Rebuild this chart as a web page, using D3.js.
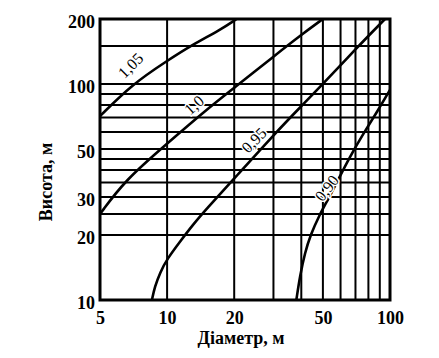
<!DOCTYPE html>
<html><head><meta charset="utf-8">
<script src="https://cdn.jsdelivr.net/npm/d3@7/dist/d3.min.js"></script>
<style>body{margin:0;background:#fff} svg{display:block}</style>
</head><body><svg id="c" width="439" height="358"></svg>
<script>
// ---- data ----
const xTicks = [5, 10, 20, 50, 100];
const yTicks = [10, 20, 30, 50, 100, 200];
const xGrid = [10, 20, 30, 40, 50, 60, 70, 80, 90];
const yGrid = [20, 25, 30, 35, 40, 45, 50, 60, 70, 80, 90, 100, 150];

const curve105 = [[5, 71], [7, 100], [10, 128], [13, 152], [17.3, 178], [20.5, 200]];
const curve100 = [[5, 25], [6.5, 36], [10, 53], [15, 76], [20, 96], [30, 134], [40, 169], [50, 200]];
const curve095 = [[8.55, 10], [8.8, 11.5], [9.3, 13.4], [10, 15.5], [11.5, 18.8], [13, 22.2], [15, 26.4], [20, 36.5], [30, 58], [40, 79], [50, 100], [70, 145], [95, 200]];
const curve090 = [[38, 10], [39.5, 13], [41.5, 16.5], [44, 20], [48, 24.5], [53, 29.5], [58.5, 36], [66, 46], [76, 59], [88, 75], [100, 94]];

const curveNames = ["1,05", "1,0", "0,95", "0,90"];
const labelD = [6.85, 13.2, 24.5, 52];
const labelH = [122, 80, 55, 33];
const labelAngle = [-45, -42, -45, -52];

const xTitle = "Діаметр, м";
const yTitle = "Висота, м";

// ---- drawing ----
const svg = d3.select("#c");
const x = d3.scaleLog().domain([5, 100]).range([100, 390]);
const y = d3.scaleLog().domain([10, 200]).range([300, 19]);
const font = "'Liberation Serif', 'Times New Roman', serif";

svg.append("defs").append("clipPath").attr("id", "clip")
  .append("rect").attr("x", 100).attr("y", 19).attr("width", 290).attr("height", 281);

const g = svg.append("g");
g.selectAll("line.vg").data(xGrid).join("line").attr("class", "vg")
  .attr("x1", d => x(d)).attr("x2", d => x(d))
  .attr("y1", y(10)).attr("y2", y(200))
  .attr("stroke", "#000").attr("stroke-width", 2);
g.selectAll("line.hg").data(yGrid).join("line").attr("class", "hg")
  .attr("x1", x(5)).attr("x2", x(100))
  .attr("y1", d => y(d)).attr("y2", d => y(d))
  .attr("stroke", "#000").attr("stroke-width", 2);

const line = d3.line().x(d => x(d[0])).y(d => y(d[1])).curve(d3.curveBasis);
const curves = [curve105, curve100, curve095, curve090];
svg.append("g").attr("clip-path", "url(#clip)")
  .selectAll("path").data(curves).join("path")
  .attr("d", line).attr("fill", "none").attr("stroke", "#000").attr("stroke-width", 2.6);

// frame
svg.append("rect").attr("x", x(5)).attr("y", y(200))
  .attr("width", x(100) - x(5)).attr("height", y(10) - y(200))
  .attr("fill", "none").attr("stroke", "#000").attr("stroke-width", 3);

// curve labels
svg.selectAll("text.cl").data(curveNames).join("text").attr("class", "cl")
  .attr("transform", (d, i) => `translate(${x(labelD[i])},${y(labelH[i])}) rotate(${labelAngle[i]})`)
  .attr("text-anchor", "middle").attr("dy", "0.35em")
  .attr("font-family", font).attr("font-size", 16)
  .attr("stroke", "#fff").attr("stroke-width", 3).attr("paint-order", "stroke")
  .attr("fill", "#000")
  .text(d => d);

// axes
const fmt = d => String(d);
const xa = svg.append("g").attr("transform", `translate(0,${y(10)})`)
  .call(d3.axisBottom(x).tickValues(xTicks).tickFormat(fmt).tickSize(0).tickPadding(11));
const ya = svg.append("g").attr("transform", `translate(${x(5)},0)`)
  .call(d3.axisLeft(y).tickValues(yTicks).tickFormat(fmt).tickSize(0).tickPadding(5));
[xa, ya].forEach(a => {
  a.select(".domain").remove();
  a.selectAll("text").attr("font-family", font).attr("font-size", 18)
    .attr("font-weight", "bold").attr("fill", "#000");
});
ya.selectAll("text").attr("dy", "0.45em");

svg.append("text").attr("x", 241).attr("y", 344).attr("text-anchor", "middle")
  .attr("font-family", font).attr("font-size", 18).attr("font-weight", "bold")
  .text(xTitle);
svg.append("text").attr("transform", "translate(52,182) rotate(-90)").attr("text-anchor", "middle")
  .attr("font-family", font).attr("font-size", 18).attr("font-weight", "bold")
  .text(yTitle);
</script></body></html>
